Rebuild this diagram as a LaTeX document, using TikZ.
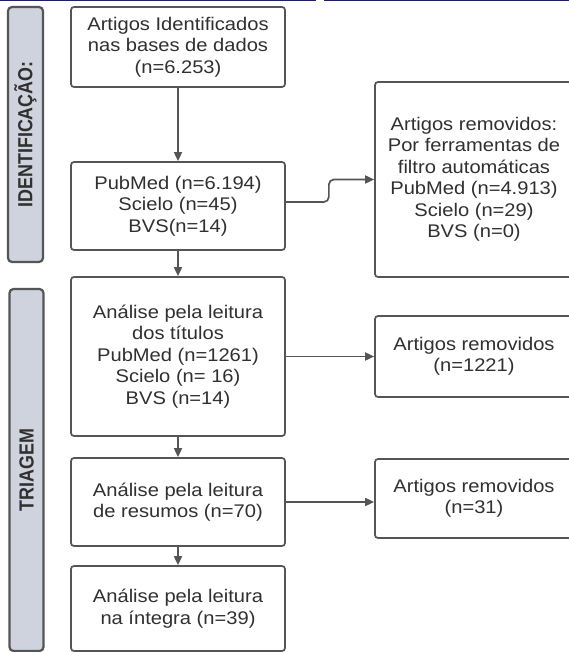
\documentclass[tikz,border=0pt]{standalone}
\usepackage{fontspec}
\setmainfont{Liberation Sans}[FakeStretch=1.1]
\newfontfamily\barfont{Liberation Sans}
\definecolor{boxLine}{RGB}{85, 85, 85}
\definecolor{boxText}{RGB}{48, 48, 48}
\definecolor{barFill}{RGB}{206, 211, 221}
\definecolor{topLine}{RGB}{30, 32, 96}
\usetikzlibrary{arrows.meta, positioning, calc}

\tikzset{
    stepbox/.style={draw=boxLine, line width=1.7pt, rounded corners=3pt, fill=white,
        text=boxText, align=center, inner sep=0pt, minimum width=214pt,
        font=\fontsize{18.3}{21.5}\selectfont},
    outbox/.style={stepbox, minimum width=198pt},
    sidebar/.style={draw=boxLine, line width=2.2pt, rounded corners=4pt, fill=barFill,
        text=boxText, rotate=90, inner sep=0pt,
        font=\barfont\bfseries\fontsize{17.9}{20}\selectfont},
    arr/.style={draw=boxLine, line width=1.7pt, -{Triangle[length=9pt, width=8pt]}}
}

\begin{document}
\begin{tikzpicture}[x=1pt, y=-1pt]
        \clip (0,0) rectangle (569,652);
        \fill[white] (0,0) rectangle (569,652);
        \fill[topLine] (0,0) rectangle (316,1.5);
        \fill[topLine] (324,0) rectangle (569,1.5);

        % Stage bars
        \node[sidebar, minimum width=255pt, minimum height=35pt] (ident) at (25.5,134.5)
            {\scalebox{1}[1.14]{IDENTIFICAÇÃO:}};
        \node[sidebar, minimum width=362pt, minimum height=34pt] (triage) at (26.5,470)
            {\scalebox{1}[1.14]{TRIAGEM}};

        % Main column
        \node[stepbox, minimum height=80pt] (b1) at (178,47)
            {Artigos Identificados\\nas bases de dados\\(n=6.253)};
        \node[stepbox, minimum height=88pt] (b2) at (178,206)
            {PubMed (n=6.194)\\Scielo (n=45)\\BVS(n=14)};
        \node[stepbox, minimum height=159pt] (b3) at (178,356.5)
            {Análise pela leitura\\dos títulos\\PubMed (n=1261)\\Scielo (n= 16)\\BVS (n=14)};
        \node[stepbox, minimum height=88pt] (b4) at (178,502)
            {Análise pela leitura\\de resumos (n=70)};
        \node[stepbox, minimum height=85pt] (b5) at (178,608.5)
            {Análise pela leitura\\na íntegra (n=39)};

        % Removed articles
        \node[outbox, minimum height=195pt] (ra) at (474,179.5)
            {Artigos removidos:\\Por ferramentas de\\filtro automáticas\\PubMed (n=4.913)\\Scielo (n=29)\\BVS (n=0)};
        \node[outbox, minimum height=81pt] (rb) at (474,356.5)
            {Artigos removidos\\(n=1221)};
        \node[outbox, minimum height=79pt] (rc) at (474,498.5)
            {Artigos removidos\\(n=31)};

        % Connectors
        \draw[arr] (b1) -- (b2);
        \draw[arr] (b2) -- (b3);
        \draw[arr] (b3) -- (b4);
        \draw[arr] (b4) -- (b5);
        \draw[arr, rounded corners=5pt] ([yshift=4pt]b2.east) -- ++(43,0) |- (ra.west);
        \draw[arr] (b3.east) -- (b3.east -| rb.west);
        \draw[arr] (b4.east) -- (b4.east -| rc.west);
    \end{tikzpicture}
\end{document}
